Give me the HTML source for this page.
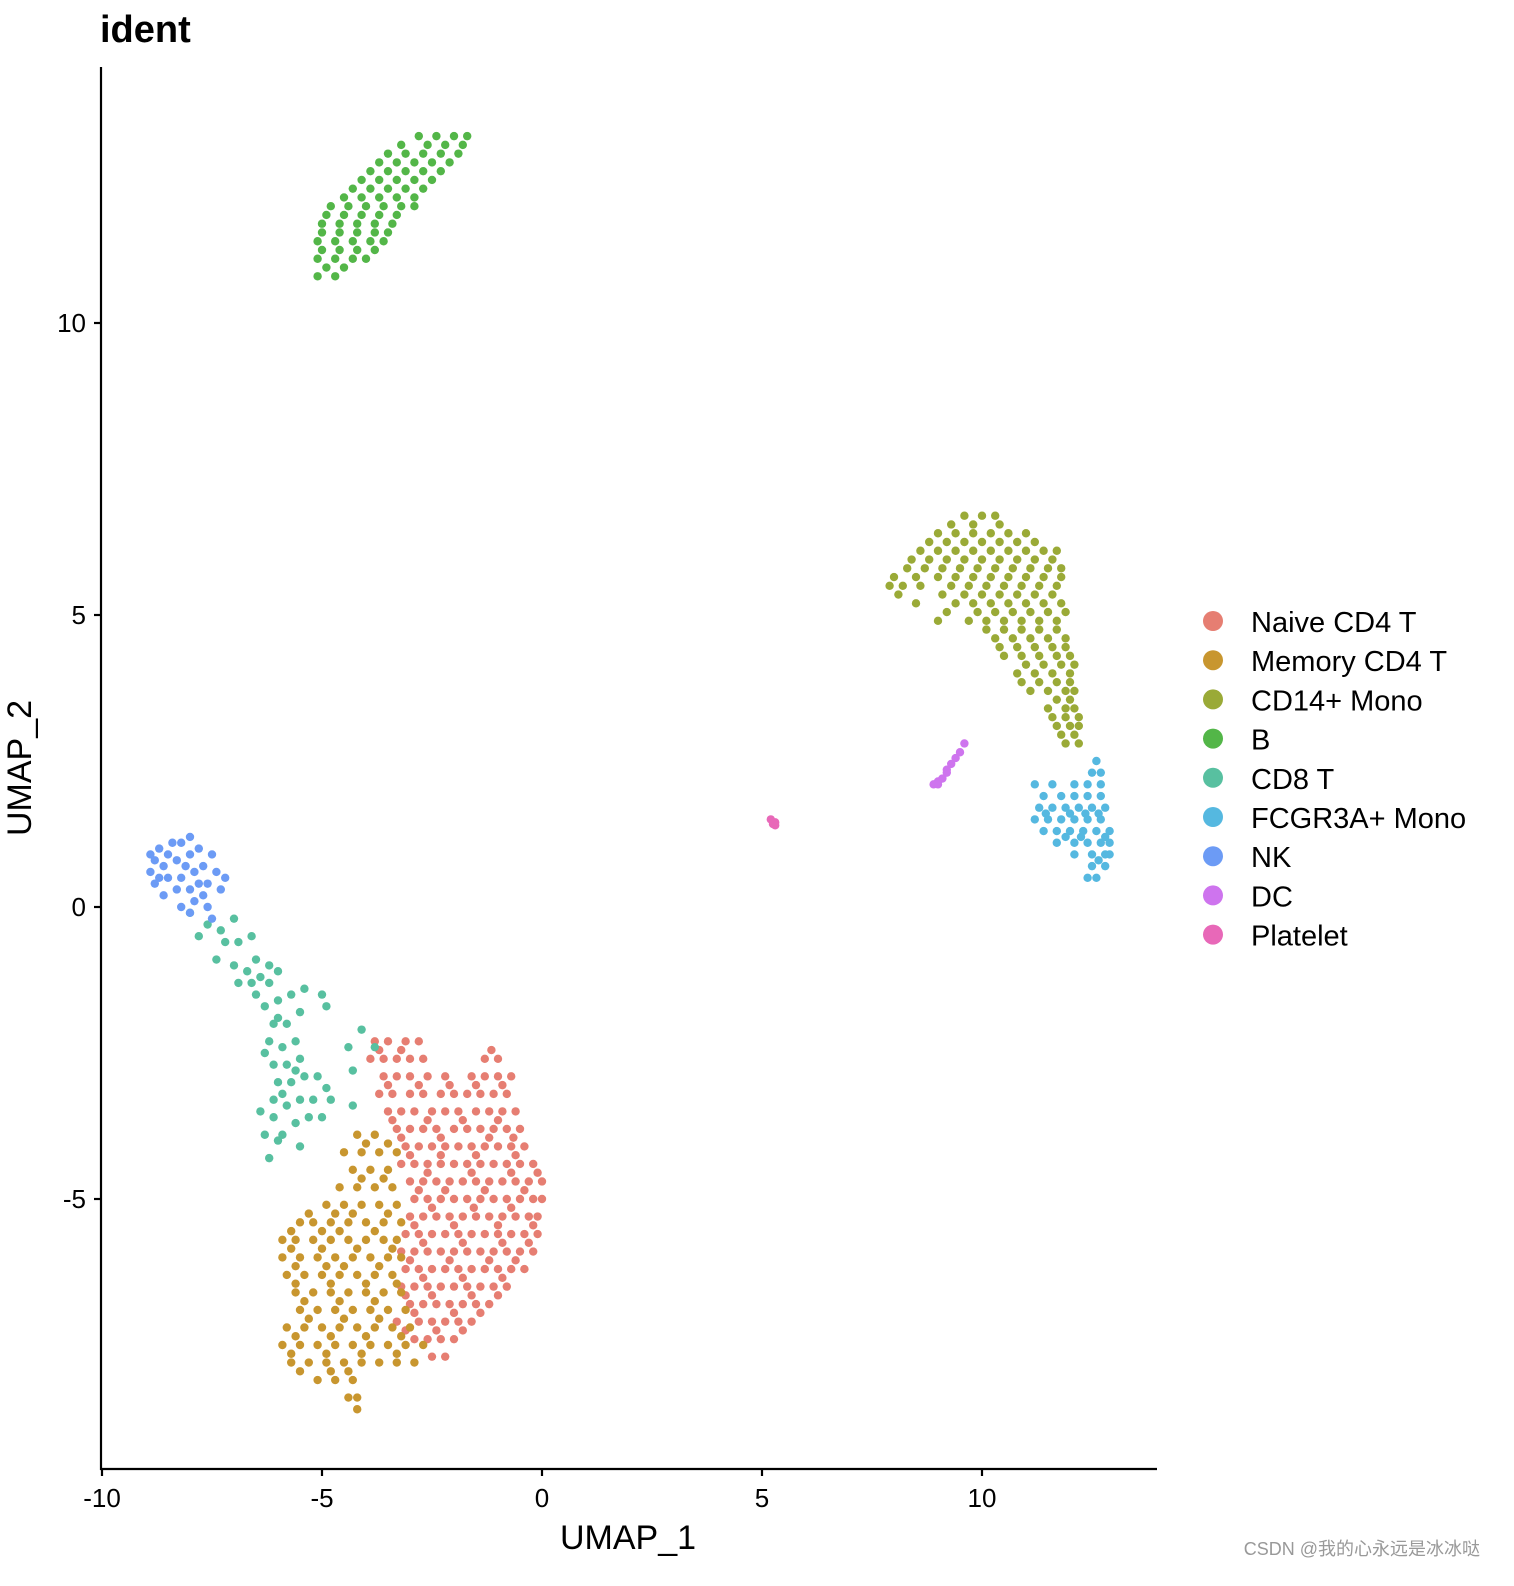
<!DOCTYPE html>
<html><head><meta charset="utf-8">
<style>
html,body{margin:0;padding:0;background:#fff;overflow:hidden;}
svg{display:block;font-family:"Liberation Sans","Noto Sans CJK SC",sans-serif;}
</style></head>
<body>
<svg id="chart" width="1514" height="1586" viewBox="0 0 1514 1586" xmlns="http://www.w3.org/2000/svg">
<text x="100" y="42" font-size="38" font-weight="bold" fill="#000">ident</text>
<g id="points"></g>
<g id="axes"></g>
<g id="legend"></g>
<text x="1480" y="1555" font-size="18" fill="#999" text-anchor="end">CSDN @我的心永远是冰冰哒</text>
</svg>
<script>
const clusterNames = ["Naive CD4 T","Memory CD4 T","CD14+ Mono","B","CD8 T","FCGR3A+ Mono","NK","DC","Platelet"];
const clusterColors = ["#E67E72","#C8962F","#9AAA37","#53B648","#58C0A0","#55B8E0","#6C9BF5","#CE74EE","#E868B8"];
const xTicks = [-10,-5,0,5,10];
const yTicks = [-5,0,5,10];
// rows: [y, [x values]]
const naiveRows = [
[-2.3,[-3.8,-3.5,-3.1,-2.8]],
[-2.6,[-3.9,-3.6,-3.3,-3.0,-2.7,-1.3,-1.0]],
[-2.9,[-3.6,-3.3,-3.0,-2.6,-2.2,-1.6,-1.3,-1.0,-0.7]],
[-3.2,[-3.7,-3.4,-3.0,-2.7,-2.3,-2.0,-1.7,-1.4,-1.1,-0.8]],
[-3.5,[-3.5,-3.2,-2.9,-2.5,-2.2,-1.9,-1.5,-1.2,-0.9,-0.6]],
[-3.8,[-3.3,-3.0,-2.7,-2.4,-2.0,-1.7,-1.4,-1.1,-0.8,-0.5]],
[-4.1,[-3.1,-2.8,-2.5,-2.2,-1.9,-1.6,-1.3,-1.0,-0.7,-0.4]],
[-4.4,[-3.2,-2.9,-2.6,-2.3,-2.0,-1.7,-1.4,-1.1,-0.8,-0.5,-0.2]],
[-4.7,[-3.0,-2.7,-2.4,-2.1,-1.8,-1.5,-1.2,-0.9,-0.6,-0.3,0.0]],
[-5.0,[-2.9,-2.6,-2.3,-2.0,-1.7,-1.4,-1.1,-0.8,-0.5,-0.2,0.0]],
[-5.3,[-3.0,-2.7,-2.4,-2.1,-1.8,-1.5,-1.2,-0.9,-0.6,-0.3,-0.1]],
[-5.6,[-3.1,-2.8,-2.5,-2.2,-1.9,-1.6,-1.3,-1.0,-0.7,-0.4,-0.1]],
[-5.9,[-3.2,-2.9,-2.6,-2.3,-2.0,-1.7,-1.4,-1.1,-0.8,-0.5,-0.2]],
[-6.2,[-3.1,-2.8,-2.5,-2.2,-1.9,-1.6,-1.3,-1.0,-0.7,-0.4]],
[-6.5,[-3.2,-2.9,-2.6,-2.3,-2.0,-1.7,-1.4,-1.1,-0.8]],
[-6.8,[-3.0,-2.7,-2.4,-2.1,-1.8,-1.5,-1.2]],
[-7.1,[-3.3,-2.8,-2.5,-2.2,-1.9,-1.6]],
[-7.4,[-2.9,-2.6,-2.3,-2.0]],
[-7.7,[-2.5,-2.2]],
[-2.45,[-3.7,-3.2,-1.15]],[-3.05,[-3.5,-2.8,-2.1,-1.5,-0.9]],[-3.65,[-3.4,-2.6,-1.8,-1.0]],
[-4.25,[-3.0,-2.3,-1.5,-0.6]],[-4.85,[-2.8,-2.2,-1.3,-0.4]],[-5.45,[-2.9,-2.0,-1.0,-0.2]],
[-6.05,[-3.0,-2.1,-1.2,-0.6]],[-6.65,[-3.1,-2.5,-1.6,-1.0]],[-7.25,[-3.1,-2.4,-1.8]],
[-3.95,[-3.2,-2.3,-1.2,-0.65]],[-4.55,[-2.6,-1.6,-0.7,-0.1]],[-5.15,[-2.5,-1.55,-0.7]],
[-5.75,[-2.7,-1.8,-0.9,-0.3]],[-6.35,[-2.7,-1.8,-0.9]],[-6.95,[-2.9,-2.0,-1.4]]
];
const memoryRows = [
[-3.9,[-4.2,-3.8]],
[-4.2,[-4.5,-4.1,-3.7,-3.3]],
[-4.5,[-4.3,-3.9,-3.5]],
[-4.8,[-4.6,-4.2,-3.8,-3.4]],
[-5.1,[-4.9,-4.5,-4.1,-3.7,-3.3]],
[-5.4,[-5.5,-5.2,-4.8,-4.4,-4.0,-3.6,-3.2]],
[-5.7,[-5.9,-5.6,-5.2,-4.8,-4.4,-4.0,-3.6,-3.3]],
[-6.0,[-5.9,-5.5,-5.1,-4.7,-4.3,-3.9,-3.5,-3.2]],
[-6.3,[-5.8,-5.4,-5.0,-4.6,-4.2,-3.8,-3.4]],
[-6.6,[-5.6,-5.2,-4.8,-4.4,-4.0,-3.6,-3.2]],
[-6.9,[-5.5,-5.1,-4.7,-4.3,-3.9,-3.5,-3.1]],
[-7.2,[-5.8,-5.4,-5.0,-4.6,-4.2,-3.8,-3.4,-3.0]],
[-7.5,[-5.9,-5.5,-5.1,-4.7,-4.3,-3.9,-3.5,-3.1,-2.7]],
[-7.8,[-5.7,-5.3,-4.9,-4.5,-4.1,-3.7,-3.3,-2.9]],
[-8.1,[-5.1,-4.7,-4.3]],
[-8.4,[-4.4,-4.2]],
[-8.6,[-4.2]],
[-4.05,[-4.0,-3.5]],[-4.65,[-4.1,-3.6]],[-5.25,[-5.3,-4.7,-4.3,-3.5]],
[-5.85,[-5.7,-5.0,-4.2,-3.4]],[-6.45,[-5.6,-4.8,-4.0,-3.3]],[-7.05,[-5.3,-4.5,-3.7]],
[-7.65,[-5.7,-4.9,-4.1,-3.3]],[-7.95,[-5.5,-4.8,-4.4]],
[-5.55,[-5.7,-5.0,-4.6,-3.8]],[-6.15,[-5.6,-4.9,-4.5,-3.7]],[-6.75,[-5.4,-4.6,-3.8]],
[-7.35,[-5.6,-4.8,-4.0,-3.2]]
];
const cd14Rows = [
[6.7,[9.6,10.0,10.3]],
[6.55,[9.3,9.8,10.4]],
[6.4,[9.0,9.4,9.8,10.2,10.6,11.0]],
[6.25,[8.8,9.2,9.6,10.0,10.4,10.8,11.2]],
[6.1,[8.6,9.0,9.4,9.8,10.2,10.6,11.0,11.4,11.7]],
[5.95,[8.4,8.8,9.2,9.6,10.0,10.4,10.8,11.2,11.6]],
[5.8,[8.3,8.7,9.1,9.5,9.9,10.3,10.7,11.1,11.5,11.8]],
[5.65,[8.0,8.5,9.0,9.4,9.8,10.2,10.6,11.0,11.4,11.8]],
[5.5,[7.9,8.2,8.6,9.3,9.7,10.1,10.5,10.9,11.3,11.7]],
[5.35,[8.1,9.1,9.6,10.0,10.4,10.8,11.2,11.6]],
[5.2,[8.5,9.4,9.8,10.2,10.6,11.0,11.4,11.8]],
[5.05,[9.2,9.9,10.3,10.7,11.1,11.5,11.9]],
[4.9,[9.0,9.7,10.1,10.5,10.9,11.3,11.7]],
[4.75,[10.1,10.5,10.9,11.3,11.7]],
[4.6,[10.3,10.7,11.1,11.5,11.9]],
[4.45,[10.4,10.8,11.2,11.6,11.9]],
[4.3,[10.5,10.9,11.3,11.7,12.0]],
[4.15,[11.0,11.4,11.8,12.1]],
[4.0,[10.8,11.2,11.6,12.0]],
[3.85,[10.9,11.3,11.7,12.0]],
[3.7,[11.1,11.5,11.9,12.1]],
[3.55,[11.7,12.0]],
[3.4,[11.5,11.9,12.1]],
[3.25,[11.6,11.9,12.2]],
[3.1,[11.7,12.0,12.2]],
[2.95,[11.8,12.1]],
[2.8,[11.9,12.2]]
];
const bRows = [
[13.2,[-2.8,-2.4,-2.0,-1.7]],
[13.05,[-3.2,-2.6,-2.2,-1.8]],
[12.9,[-3.5,-3.1,-2.7,-2.3,-1.9]],
[12.75,[-3.7,-3.3,-2.9,-2.5,-2.1]],
[12.6,[-3.9,-3.5,-3.1,-2.7,-2.3]],
[12.45,[-4.1,-3.7,-3.3,-2.9,-2.5]],
[12.3,[-4.3,-3.9,-3.5,-3.1,-2.7]],
[12.15,[-4.5,-4.1,-3.7,-3.3,-2.9]],
[12.0,[-4.8,-4.4,-4.0,-3.6,-3.2,-2.9]],
[11.85,[-4.9,-4.5,-4.1,-3.7,-3.3]],
[11.7,[-5.0,-4.6,-4.2,-3.8,-3.4]],
[11.55,[-5.0,-4.6,-4.2,-3.8,-3.5]],
[11.4,[-5.1,-4.7,-4.3,-3.9,-3.6]],
[11.25,[-5.0,-4.6,-4.2,-3.8]],
[11.1,[-5.1,-4.7,-4.3,-4.0]],
[10.95,[-4.9,-4.5]],
[10.8,[-5.1,-4.7]]
];
const cd8Points = [[-8.0,-0.1],[-7.6,-0.3],[-7.8,-0.5],[-7.3,-0.4],[-7.0,-0.2],[-6.9,-0.6],[-7.4,-0.9],[-6.6,-0.5],[-6.5,-0.9],[-7.0,-1.0],[-6.7,-1.1],[-6.4,-1.2],[-6.9,-1.3],[-6.5,-1.5],[-6.2,-1.3],[-6.0,-1.1],[-6.3,-1.7],[-6.0,-1.6],[-5.7,-1.5],[-5.4,-1.4],[-6.1,-2.0],[-5.8,-2.0],[-5.5,-1.8],[-5.0,-1.5],[-4.9,-1.7],[-6.2,-2.3],[-5.9,-2.4],[-5.6,-2.3],[-6.1,-2.7],[-5.8,-2.7],[-5.5,-2.6],[-6.0,-3.0],[-5.7,-3.0],[-5.4,-2.9],[-5.1,-2.9],[-4.9,-3.1],[-6.1,-3.3],[-5.8,-3.4],[-5.5,-3.3],[-5.2,-3.3],[-4.8,-3.3],[-5.6,-3.7],[-5.3,-3.6],[-5.0,-3.6],[-6.1,-3.6],[-6.3,-3.9],[-5.9,-3.9],[-4.3,-3.4],[-4.4,-2.4],[-4.1,-2.1],[-4.3,-2.8],[-3.8,-2.4],[-6.2,-4.3],[-6.0,-4.0],[-5.5,-4.1],[-6.2,-1.0],[-6.6,-1.3],[-6.3,-2.5],[-5.9,-3.2],[-5.6,-2.8],[-6.0,-1.9],[-7.2,-0.6],[-6.4,-3.5]];
const fcgrRows = [
[2.5,[12.6]],
[2.3,[12.5,12.7]],
[2.1,[11.2,11.6,12.1,12.4,12.7]],
[1.9,[11.4,11.8,12.1,12.4,12.7]],
[1.7,[11.3,11.6,11.9,12.2,12.5,12.8]],
[1.5,[11.2,11.5,11.8,12.1,12.4,12.7]],
[1.3,[11.4,11.7,12.0,12.3,12.6,12.9]],
[1.1,[11.7,12.1,12.4,12.7,12.9]],
[0.9,[12.1,12.5,12.8,12.9]],
[0.7,[12.5,12.8]],
[0.5,[12.4,12.6]],
[1.6,[11.45,12.0,12.35,12.65]],[1.2,[11.9,12.25,12.8]],[0.8,[12.65]]
];
const nkPoints = [[-8.9,0.9],[-8.7,1.0],[-8.5,0.9],[-8.2,1.1],[-8.0,1.2],[-7.8,1.0],[-7.5,0.9],[-8.9,0.6],[-8.6,0.7],[-8.3,0.8],[-8.0,0.9],[-7.7,0.7],[-7.4,0.6],[-7.2,0.5],[-8.8,0.4],[-8.5,0.5],[-8.2,0.5],[-7.9,0.6],[-7.6,0.4],[-8.6,0.2],[-8.3,0.3],[-8.0,0.3],[-7.7,0.2],[-7.3,0.3],[-8.2,0.0],[-8.0,-0.1],[-7.6,0.0],[-7.5,-0.2],[-8.8,0.8],[-8.4,1.1],[-7.9,0.1],[-8.7,0.5],[-8.1,0.7],[-7.8,0.4]];
const dcPoints = [[8.9,2.1],[9.0,2.15],[9.1,2.2],[9.2,2.35],[9.3,2.45],[9.4,2.55],[9.5,2.65],[9.6,2.8],[9.0,2.1],[9.2,2.3]];
const plateletPoints = [[5.2,1.5],[5.3,1.45],[5.25,1.42],[5.3,1.4]];

const NS = "http://www.w3.org/2000/svg";
function sx(v){ return 542 + v*44; }
function sy(v){ return 907 - v*58.4; }
function rowsToPts(rows){ const out=[]; rows.forEach(r=>r[1].forEach(x=>out.push([x,r[0]]))); return out; }
const clusterPoints = [rowsToPts(naiveRows), rowsToPts(memoryRows), rowsToPts(cd14Rows), rowsToPts(bRows), cd8Points, rowsToPts(fcgrRows), nkPoints, dcPoints, plateletPoints];
const drawOrder = [0,1,2,3,4,5,6,7,8];
const pg = document.getElementById('points');
drawOrder.forEach(ci=>{
  const g = document.createElementNS(NS,'g');
  
  
  clusterPoints[ci].forEach(p=>{
    const c = document.createElementNS(NS,'circle');
    c.setAttribute('cx', sx(p[0])); c.setAttribute('cy', sy(p[1]));
    c.setAttribute('r', 4.2); c.setAttribute('fill', clusterColors[ci]);
    
    
    g.appendChild(c);
  });
  pg.appendChild(g);
});
const ax = document.getElementById('axes');
function line(x1,y1,x2,y2,name){
  const l=document.createElementNS(NS,'line');
  l.setAttribute('x1',x1);l.setAttribute('y1',y1);l.setAttribute('x2',x2);l.setAttribute('y2',y2);
  l.setAttribute('stroke','#000');l.setAttribute('stroke-width',2.2);
  
  
  ax.appendChild(l);
}
function text(x,y,s,anchor,size,name,rot){
  const t=document.createElementNS(NS,'text');
  t.setAttribute('x',x);t.setAttribute('y',y);t.setAttribute('text-anchor',anchor);
  t.setAttribute('font-size',size);t.setAttribute('fill','#000');
  if(rot) t.setAttribute('transform',rot);
  t.textContent=s;
  
  
  ax.appendChild(t);
}
line(101,67,101,1470,'y-axis-line');
line(100,1469,1157,1469,'x-axis-line');
xTicks.forEach(v=>{ line(sx(v),1469,sx(v),1476,'x-tick'); text(sx(v),1507,String(v),'middle',26,'x-tick-label'); });
yTicks.forEach(v=>{ line(94,sy(v),101,sy(v),'y-tick'); text(86,sy(v)+9,String(v),'end',26,'y-tick-label'); });
text(628,1549,'UMAP_1','middle',34,'x-axis-title');
text(0,0,'UMAP_2','middle',34,'y-axis-title','translate(31,768) rotate(-90)');
const lg = document.getElementById('legend');
clusterNames.forEach((n,i)=>{
  const y = 621 + i*39.2;
  const c=document.createElementNS(NS,'circle');
  c.setAttribute('cx',1213);c.setAttribute('cy',y);c.setAttribute('r',10);c.setAttribute('fill',clusterColors[i]);
  
  
  lg.appendChild(c);
  const t=document.createElementNS(NS,'text');
  t.setAttribute('x',1251);t.setAttribute('y',y+11);t.setAttribute('font-size',29);t.setAttribute('fill','#000');
  t.textContent=n;
  
  
  lg.appendChild(t);
});
</script>
</body></html>
